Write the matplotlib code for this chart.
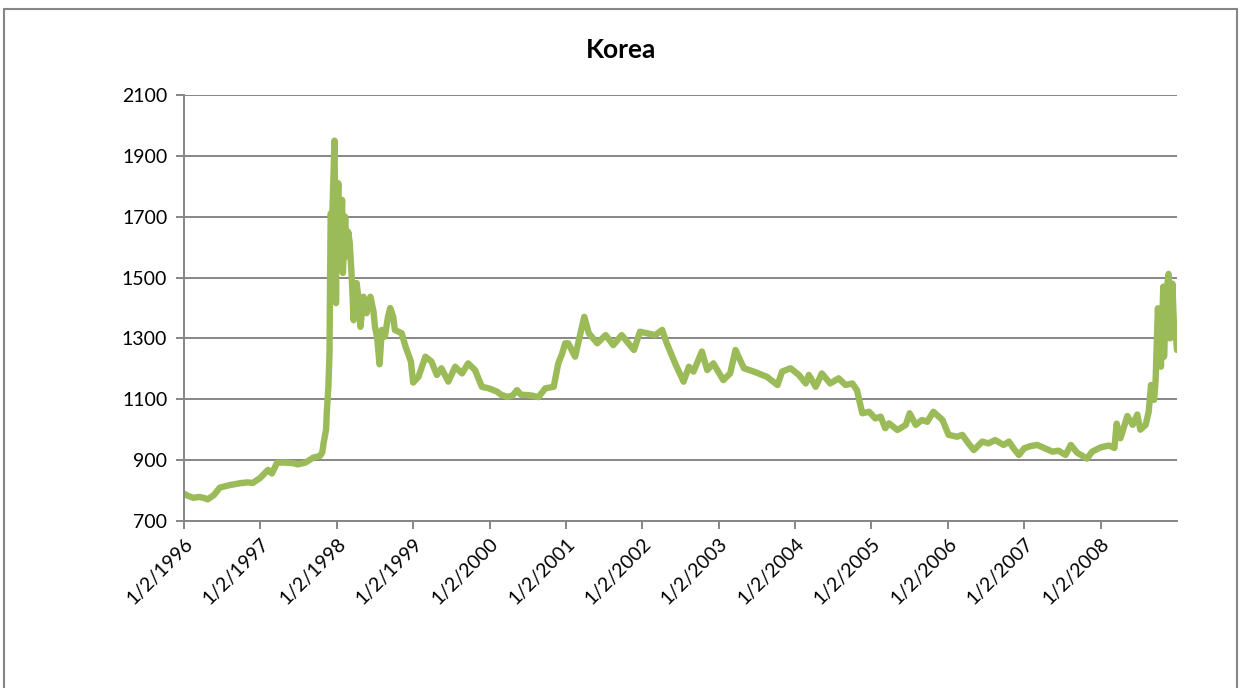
import matplotlib.pyplot as plt
import matplotlib.patches as patches
import numpy as np

# Korea exchange rate (won per dollar); x in decimal years
years = [
    1996.00, 1996.05, 1996.12, 1996.20, 1996.26, 1996.31, 1996.39, 1996.47,
    1996.60, 1996.73, 1996.83, 1996.90, 1997.00, 1997.06, 1997.10, 1997.15,
    1997.22, 1997.32, 1997.43, 1997.49, 1997.59, 1997.69, 1997.78, 1997.81,
    1997.83, 1997.86, 1997.87, 1997.89, 1997.905, 1997.91, 1997.92, 1997.94,
    1997.97, 1997.98, 1997.99, 1998.00, 1998.02, 1998.04, 1998.07, 1998.08,
    1998.11, 1998.13, 1998.15, 1998.17, 1998.20, 1998.22, 1998.24, 1998.26,
    1998.28, 1998.31, 1998.35, 1998.39, 1998.44, 1998.48, 1998.50, 1998.53,
    1998.56, 1998.59, 1998.63, 1998.67, 1998.70, 1998.74, 1998.76, 1998.85,
    1998.90, 1998.94, 1998.97, 1999.00, 1999.07, 1999.16, 1999.24, 1999.31,
    1999.37, 1999.46, 1999.55, 1999.64, 1999.72, 1999.81, 1999.90, 1999.99,
    2000.10, 2000.15, 2000.23, 2000.30, 2000.36, 2000.41, 2000.49, 2000.56,
    2000.64, 2000.73, 2000.84, 2000.90, 2000.95, 2000.99, 2001.03, 2001.12,
    2001.19, 2001.24, 2001.30, 2001.41, 2001.52, 2001.62, 2001.73, 2001.89,
    2001.97, 2002.06, 2002.17, 2002.26, 2002.32, 2002.43, 2002.54, 2002.61,
    2002.67, 2002.78, 2002.85, 2002.93, 2003.06, 2003.15, 2003.22, 2003.33,
    2003.46, 2003.63, 2003.77, 2003.83, 2003.94, 2004.05, 2004.14, 2004.18,
    2004.27, 2004.35, 2004.46, 2004.57, 2004.66, 2004.75, 2004.81, 2004.88,
    2004.97, 2005.05, 2005.12, 2005.18, 2005.23, 2005.34, 2005.45, 2005.50,
    2005.58, 2005.66, 2005.73, 2005.81, 2005.93, 2006.01, 2006.12, 2006.19,
    2006.27, 2006.34, 2006.45, 2006.53, 2006.62, 2006.73, 2006.80, 2006.86,
    2006.93, 2007.00, 2007.08, 2007.17, 2007.26, 2007.37, 2007.45, 2007.54,
    2007.61, 2007.69, 2007.82, 2007.89, 2008.00, 2008.11, 2008.18, 2008.21,
    2008.26, 2008.35, 2008.42, 2008.48, 2008.52, 2008.59, 2008.63, 2008.66,
    2008.70, 2008.72, 2008.75, 2008.79, 2008.82, 2008.83, 2008.86, 2008.89,
    2008.91, 2008.94, 2008.96, 2008.98, 2009.00,
]
rates = [
    790, 783, 776, 779, 776, 771, 785, 810,
    818, 824, 827, 825, 842, 858, 868, 856,
    892, 892, 890, 886, 892, 908, 914, 925,
    960, 1000, 1060, 1140, 1250, 1420, 1710, 1690,
    1950, 1700, 1416, 1700, 1810, 1620, 1755, 1515,
    1700, 1570, 1650, 1613, 1482, 1360, 1440, 1482,
    1440, 1338, 1437, 1383, 1437, 1390, 1338, 1300,
    1215, 1328, 1306, 1370, 1400, 1370, 1328, 1317,
    1273, 1245, 1225, 1155, 1174, 1240, 1224, 1180,
    1202, 1158, 1207, 1185, 1218, 1196, 1141, 1136,
    1125, 1115, 1108, 1112, 1130, 1115, 1114, 1112,
    1107, 1136, 1141, 1218, 1250, 1284, 1284, 1240,
    1317, 1371, 1317, 1284, 1311, 1278, 1311, 1262,
    1322, 1317, 1311, 1328, 1284, 1218, 1158, 1207,
    1191, 1257, 1196, 1218, 1163, 1185, 1262, 1202,
    1191, 1174, 1147, 1191, 1202, 1180, 1152, 1180,
    1141, 1185, 1152, 1169, 1147, 1152, 1130, 1054,
    1059, 1037, 1043, 1005, 1021, 999, 1016, 1054,
    1016, 1032, 1026, 1059, 1032, 983, 977, 983,
    955, 933, 961, 955, 966, 950, 961, 939,
    917, 939, 946, 950, 940, 928, 931, 917,
    950, 925, 905, 928, 942, 948, 940, 1020,
    972, 1045, 1016, 1050, 1000, 1016, 1060, 1147,
    1098, 1163, 1399, 1207, 1470, 1240, 1450, 1512,
    1300, 1480, 1338, 1330, 1262,
]
tick_years = list(range(1996, 2009))
tick_labels = ['1/2/{}'.format(y) for y in tick_years]
y_ticks = list(range(700, 2101, 200))

LINE = '#9BBB59'
GRID = '#868686'

plt.rcParams['font.family'] = ['Lato', 'DejaVu Sans']

fig = plt.figure(figsize=(12.42, 6.88), dpi=100)
ax = fig.add_axes([184 / 1242, 1 - 521 / 688, (1177 - 184) / 1242, (521 - 95) / 688])

# outer chart-area frame
fig.patches.append(patches.Rectangle((4 / 1242, -0.05), 1233 / 1242, 1.05 - 9 / 688,
                                     transform=fig.transFigure, fill=False,
                                     edgecolor=GRID, linewidth=1.5))

ax.plot(years, rates, color=LINE, linewidth=4.6, solid_joinstyle='round',
        solid_capstyle='round')

ax.set_xlim(1996, 2009)
ax.set_ylim(700, 2100)
ax.set_yticks(y_ticks)
ax.yaxis.grid(True, color=GRID, linewidth=1.4)
ax.set_axisbelow(True)
ax.set_xticks(tick_years)
ax.set_xticklabels(tick_labels, rotation=45, ha='right', rotation_mode='anchor')

for side in ('top', 'right'):
    ax.spines[side].set_visible(False)
for side in ('left', 'bottom'):
    ax.spines[side].set_color(GRID)
    ax.spines[side].set_linewidth(1.4)
ax.tick_params(axis='both', colors=GRID, labelcolor='black', labelsize=14,
               length=6, width=1.4, direction='out')
ax.tick_params(axis='x', pad=4)
ax.tick_params(axis='y', pad=6)

fig.text(0.5, 1 - 50 / 688, 'Korea', ha='center', va='center',
         fontsize=19, fontweight='bold')

fig.savefig('out.png', dpi=100)
